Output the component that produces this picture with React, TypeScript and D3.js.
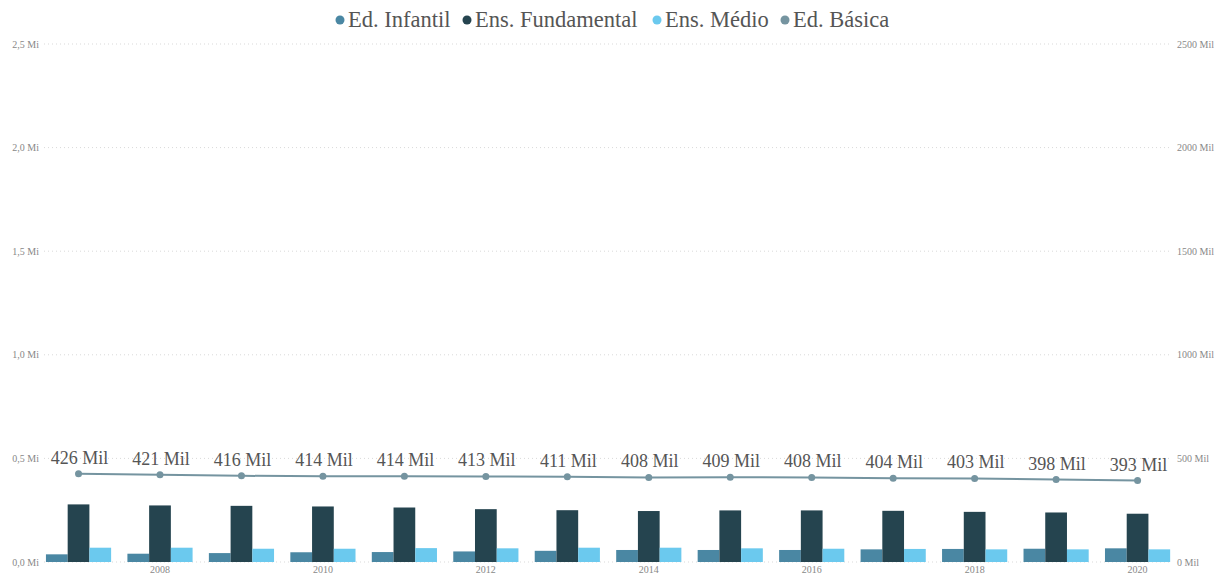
import React from "react";
import * as d3 from "d3";

// Matrículas por etapa (milhares) e total da Educação Básica
const years = [2007, 2008, 2009, 2010, 2011, 2012, 2013, 2014, 2015, 2016, 2017, 2018, 2019, 2020];
const edInfantil = [37, 40, 43, 47, 48, 51, 54, 58, 58, 58, 61, 63, 64, 66];
const ensFundamental = [278, 273, 271, 268, 263, 255, 250, 246, 249, 249, 247, 242, 239, 233];
const ensMedio = [69, 69, 64, 64, 67, 66, 69, 69, 66, 64, 63, 61, 61, 61];
const edBasica = [426, 421, 416, 414, 414, 413, 411, 408, 409, 408, 404, 403, 398, 393];

const leftTicks = [0, 0.5, 1, 1.5, 2, 2.5];
const rightTicks = [0, 500, 1000, 1500, 2000, 2500];

const seriesNames = ["Ed. Infantil", "Ens. Fundamental", "Ens. Médio", "Ed. Básica"];
const seriesColors = ["#4a87a3", "#25444f", "#6bc9ee", "#7594a0"];

const W = 1217;
const H = 573;
const FONT = "'Liberation Serif', 'Times New Roman', serif";

export default function App() {
  const x = d3
    .scaleBand<number>()
    .domain(years)
    .range([37.8, 1178.3])
    .paddingInner(0.2)
    .paddingOuter(0.1);
  const xSub = d3
    .scaleBand<number>()
    .domain([0, 1, 2])
    .range([0, x.bandwidth()]);
  const yLeft = d3.scaleLinear().domain([0, 2.5]).range([562, 44]);
  const yRight = d3.scaleLinear().domain([0, 2500]).range([562, 44]);

  const barSeries = [edInfantil, ensFundamental, ensMedio];
  const cx = (y: number) => (x(y) ?? 0) + x.bandwidth() / 2;

  const line = d3
    .line<number>()
    .x((_, i) => cx(years[i]))
    .y((d) => yRight(d));

  const fmtLeft = (v: number) => d3.format(".1f")(v).replace(".", ",") + " Mi";

  // legend layout
  const legendX = [340, 467, 657, 785];

  return (
    <svg
      width={W}
      height={H}
      style={{ position: "absolute", left: 0, top: 0, background: "#fff" }}
      fontFamily={FONT}
    >
      {/* legend */}
      <g>
        {seriesNames.map((name, i) => (
          <g key={name}>
            <circle cx={legendX[i]} cy={20} r={4.5} fill={seriesColors[i]} />
            <text x={legendX[i] + 8} y={27} fontSize={22.5} fill="#555">
              {name}
            </text>
          </g>
        ))}
      </g>

      {/* gridlines */}
      {leftTicks.map((t) => (
        <line
          key={t}
          x1={44}
          x2={1172}
          y1={yLeft(t)}
          y2={yLeft(t)}
          stroke="#d9d9d9"
          strokeWidth={1}
          strokeDasharray="1,3"
        />
      ))}

      {/* left axis */}
      {leftTicks.map((t) => (
        <text key={t} x={39} y={yLeft(t) + 3.5} fontSize={10} fill="#888" textAnchor="end">
          {fmtLeft(t)}
        </text>
      ))}

      {/* right axis */}
      {rightTicks.map((t) => (
        <text key={t} x={1177} y={yRight(t) + 3.5} fontSize={10} fill="#888">
          {`${t} Mil`}
        </text>
      ))}

      {/* bars */}
      {barSeries.map((vals, s) =>
        vals.map((v, i) => (
          <rect
            key={`${s}-${i}`}
            x={(x(years[i]) ?? 0) + (xSub(s) ?? 0)}
            y={yLeft(v / 1000)}
            width={xSub.bandwidth()}
            height={yLeft(0) - yLeft(v / 1000)}
            fill={seriesColors[s]}
          />
        ))
      )}

      {/* total line */}
      <path d={line(edBasica) ?? ""} fill="none" stroke={seriesColors[3]} strokeWidth={2} />
      {edBasica.map((v, i) => (
        <circle key={i} cx={cx(years[i])} cy={yRight(v)} r={3.5} fill={seriesColors[3]} />
      ))}
      {edBasica.map((v, i) => (
        <text
          key={i}
          x={cx(years[i]) + 1}
          y={yRight(v) - 10}
          fontSize={18}
          fill="#555"
          textAnchor="middle"
        >
          {`${v} Mil`}
        </text>
      ))}

      {/* x axis labels */}
      {years
        .filter((y) => y % 2 === 0)
        .map((y) => (
          <text key={y} x={cx(y)} y={572.5} fontSize={10} fill="#888" textAnchor="middle">
            {y}
          </text>
        ))}
    </svg>
  );
}
